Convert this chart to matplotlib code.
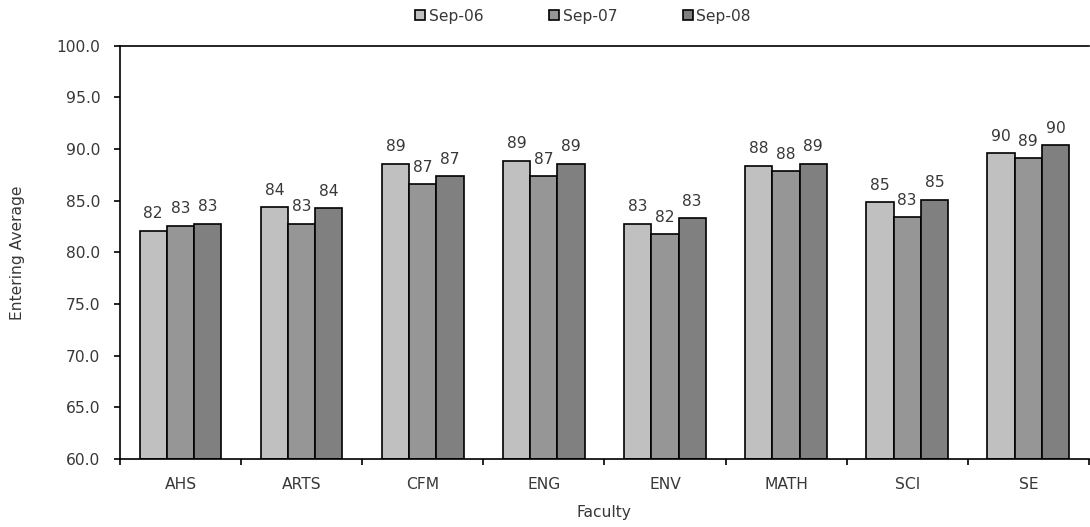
import matplotlib.pyplot as plt
import numpy as np

faculties = ['AHS', 'ARTS', 'CFM', 'ENG', 'ENV', 'MATH', 'SCI', 'SE']
series_names = ['Sep-06', 'Sep-07', 'Sep-08']
sep06 = [82.1, 84.4, 88.6, 88.9, 82.8, 88.4, 84.9, 89.6]
sep07 = [82.6, 82.8, 86.6, 87.4, 81.8, 87.9, 83.4, 89.1]
sep08 = [82.8, 84.3, 87.4, 88.6, 83.3, 88.6, 85.1, 90.4]
colors = ['#c0c0c0', '#969696', '#808080']

plt.rcParams['font.family'] = ['Verdana', 'DejaVu Sans']
fs = 11.2
tc = '#383838'

fig = plt.figure(figsize=(10.9, 5.27), dpi=100)
ax = fig.add_axes([0.110, 0.129, 0.889, 0.784])

x = np.arange(len(faculties))
w = 0.225
for i, (vals, name, c) in enumerate(zip([sep06, sep07, sep08], series_names, colors)):
    pos = x + (i - 1) * w
    ax.bar(pos, np.array(vals) - 60, width=w, bottom=60, color=c,
           edgecolor='black', linewidth=1.2, label=name)
    for p, v in zip(pos, vals):
        ax.text(p, v + 0.9, f'{v:.0f}', ha='center', va='bottom', fontsize=fs, color=tc)

ax.set_ylim(60, 100)
ax.set_xlim(-0.5, len(faculties) - 0.5)
ax.set_yticks(np.arange(60, 100.1, 5))
ax.set_yticklabels([f'{v:.1f}' for v in np.arange(60, 100.1, 5)], fontsize=fs, color=tc)
ax.set_xticks(x)
ax.set_xticklabels(faculties, fontsize=fs, color=tc)
ax.tick_params(axis='x', which='major', length=0, pad=13)
ax.set_xticks(np.arange(-0.5, len(faculties)), minor=True)
ax.tick_params(axis='x', which='minor', length=4, width=1.2, direction='out')
ax.tick_params(axis='y', length=4, width=1.2, direction='out', pad=10)
ax.spines['right'].set_visible(False)
for s in ['left', 'bottom', 'top']:
    ax.spines[s].set_linewidth(1.2)

ax.set_ylabel('Entering Average', fontsize=fs, labelpad=23, color=tc)
ax.set_xlabel('Faculty', fontsize=fs, labelpad=9, color=tc)

fig.legend(loc='upper center', bbox_to_anchor=(0.535, 1.01), ncol=3, frameon=False,
           fontsize=fs, handlelength=0.65, handleheight=0.65, handletextpad=0.2,
           columnspacing=4.25, labelcolor=tc)

fig.savefig('out.png', dpi=100)
